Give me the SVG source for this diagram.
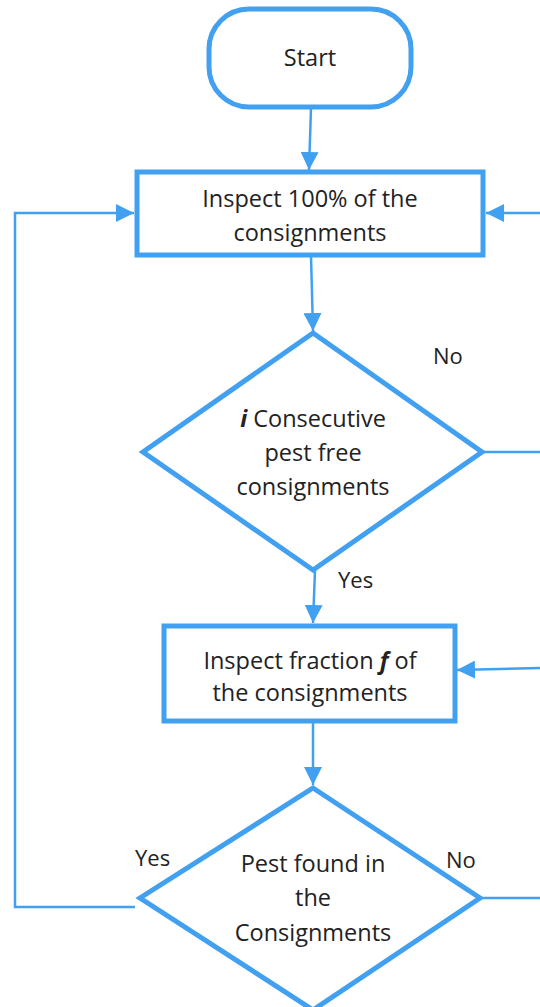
<svg xmlns="http://www.w3.org/2000/svg" width="540" height="1007" viewBox="0 0 540 1007">
<style>
.node{fill:#fff;stroke:#42A0F0;stroke-width:5}
.c{fill:none;stroke:#42A0F0;stroke-width:2.5}
text{font-family:"Open Sans",Lato,sans-serif;font-size:23.5px;fill:#222;text-anchor:middle}
.lb{text-anchor:start;font-size:22px}
</style>
<defs>
<marker id="ah" markerUnits="userSpaceOnUse" markerWidth="20" markerHeight="18" refX="18" refY="9" orient="auto">
<path d="M0,0 L18,9 L0,18 Z" fill="#42A0F0"/>
</marker>
</defs>
<rect width="540" height="1007" fill="#fff"/>
<g id="connectors">
<path class="c" d="M311,108 L309,170" marker-end="url(#ah)"/>
<path class="c" d="M311,256 L313,331" marker-end="url(#ah)"/>
<path class="c" d="M315,570 L313,623" marker-end="url(#ah)"/>
<path class="c" d="M313,723 L313,785" marker-end="url(#ah)"/>
<path class="c" d="M482,452 L540,452"/>
<path class="c" d="M540,213 L486,213" marker-end="url(#ah)"/>
<path class="c" d="M480,898 L540,898"/>
<path class="c" d="M540,668 L457,670" marker-end="url(#ah)"/>
<path class="c" d="M135,907 L15,907 L15,213 L134,213" marker-end="url(#ah)"/>
</g>
<g id="start">
<rect class="node" x="209" y="9" width="202" height="98" rx="40" ry="40"/>
<text x="310" y="66">Start</text>
</g>
<g id="inspect100">
<rect class="node" x="137" y="172" width="346" height="83"/>
<text x="310" y="207">Inspect 100% of the</text>
<text x="310" y="241">consignments</text>
</g>
<g id="consecutive">
<polygon class="node" points="313,333 482,452 313,570 143,452"/>
<text x="313" y="427"><tspan font-weight="bold" font-style="italic">i</tspan> Consecutive</text>
<text x="313" y="461">pest free</text>
<text x="313" y="495">consignments</text>
</g>
<g id="inspectf">
<rect class="node" x="164" y="626" width="291" height="95"/>
<text x="310" y="669">Inspect fraction <tspan font-weight="bold" font-style="italic">f</tspan> of</text>
<text x="310" y="701">the consignments</text>
</g>
<g id="pestfound">
<polygon class="node" points="313,788 480,898 313,1010 140,898"/>
<text x="313" y="872">Pest found in</text>
<text x="313" y="906">the</text>
<text x="313" y="941">Consignments</text>
</g>
<g id="labels">
<text class="lb" x="433" y="364">No</text>
<text class="lb" x="338" y="588">Yes</text>
<text class="lb" x="135" y="866">Yes</text>
<text class="lb" x="446" y="868">No</text>
</g>
</svg>
